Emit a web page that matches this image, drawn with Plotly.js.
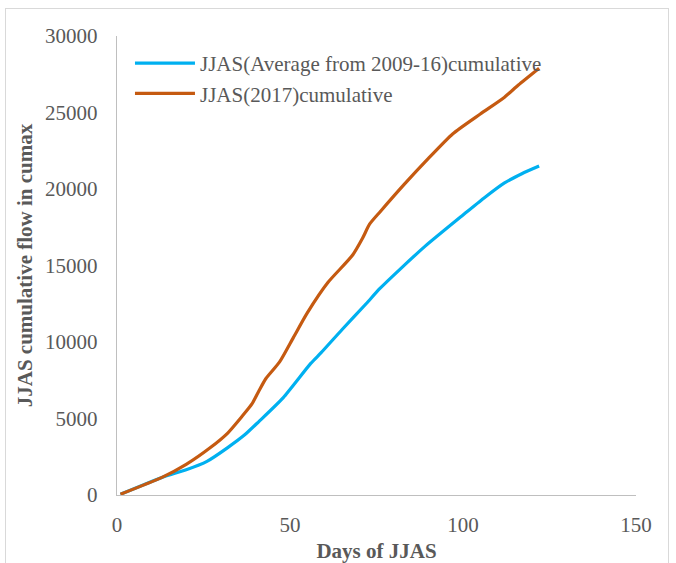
<!DOCTYPE html>
<html>
<head>
<meta charset="utf-8">
<script src="https://cdn.plot.ly/plotly-3.0.1.min.js"></script>
<style>
  html, body { margin: 0; padding: 0; background: #ffffff; }
  #wrap { position: relative; width: 676px; height: 563px; overflow: hidden; }
  #chart { position: absolute; left: 0; top: 0; width: 676px; height: 563px; }
  #frame { position: absolute; left: 5px; top: 8px; width: 662px; height: 600px;
           border: 1px solid #d9d9d9; pointer-events: none; }
</style>
</head>
<body>
<div id="wrap">
  <div id="chart"></div>
  <div id="frame"></div>
</div>
<script>
// Series names
const seriesNames = ['JJAS(Average from 2009-16)cumulative', 'JJAS(2017)cumulative'];

// Average 2009-16 cumulative (days, cumecs)
const avgDays   = [1, 13, 20, 26, 32, 37, 41, 48, 56, 59, 65, 72, 76, 82, 89, 100, 106, 112, 117, 122];
const avgValues = [50, 1150, 1650, 2200, 3100, 3950, 4800, 6350, 8600, 9300, 10800, 12500, 13500, 14800, 16250, 18300, 19400, 20400, 21000, 21500];

// 2017 cumulative (days, cumecs)
const y2017Days   = [1, 13, 20, 27, 32, 36, 39, 41, 43, 47, 51, 55, 61, 68, 71, 73, 76, 83, 90, 97, 105, 112, 116, 122];
const y2017Values = [50, 1150, 2000, 3100, 4050, 5100, 5950, 6800, 7600, 8700, 10300, 11900, 13900, 15650, 16800, 17700, 18500, 20300, 22000, 23600, 24900, 26000, 26800, 27900];

// Axis ticks
const xTicks = [0, 50, 100, 150];
const yTicks = [0, 5000, 10000, 15000, 20000, 25000, 30000];

const font = 'Liberation Serif, Times New Roman, serif';
const grey = '#595959';

const traces = [
  { x: avgDays, y: avgValues, name: seriesNames[0], type: 'scatter', mode: 'lines',
    line: { color: '#00B0F0', width: 3.2, shape: 'spline', smoothing: 0.6 } },
  { x: y2017Days, y: y2017Values, name: seriesNames[1], type: 'scatter', mode: 'lines',
    line: { color: '#C55A11', width: 3.2, shape: 'spline', smoothing: 0.6 } }
];

const layout = {
  width: 676, height: 563,
  margin: { l: 117, r: 40, t: 36, b: 68 },
  paper_bgcolor: 'rgba(0,0,0,0)',
  plot_bgcolor: 'rgba(0,0,0,0)',
  font: { family: font, color: grey, size: 20 },
  showlegend: true,
  legend: {
    x: 0.025, y: 0.985, xanchor: 'left', yanchor: 'top',
    bgcolor: 'rgba(0,0,0,0)', font: { family: font, size: 21, color: grey },
    itemwidth: 60, tracegroupgap: 0
  },
  xaxis: {
    range: [0, 150], tickvals: xTicks, ticktext: xTicks.map(String),
    showgrid: false, zeroline: false, showline: true, linecolor: '#bfbfbf', linewidth: 1.3,
    ticks: '', ticklabelstandoff: 10,
    tickfont: { family: font, size: 21, color: grey },
    title: { text: 'Days of JJAS', font: { family: font, size: 21, color: grey, weight: 'bold' }, standoff: 8 }
  },
  yaxis: {
    range: [0, 30000], tickvals: yTicks, ticktext: yTicks.map(String),
    showgrid: false, zeroline: false, showline: true, linecolor: '#bfbfbf', linewidth: 1.3,
    ticks: '', ticklabelstandoff: 14,
    tickfont: { family: font, size: 21, color: grey },
    title: { text: 'JJAS cumulative flow in cumax', font: { family: font, size: 21, color: grey, weight: 'bold' }, standoff: 6 }
  }
};

Plotly.newPlot('chart', traces, layout, { displayModeBar: false, staticPlot: true });
</script>
</body>
</html>
